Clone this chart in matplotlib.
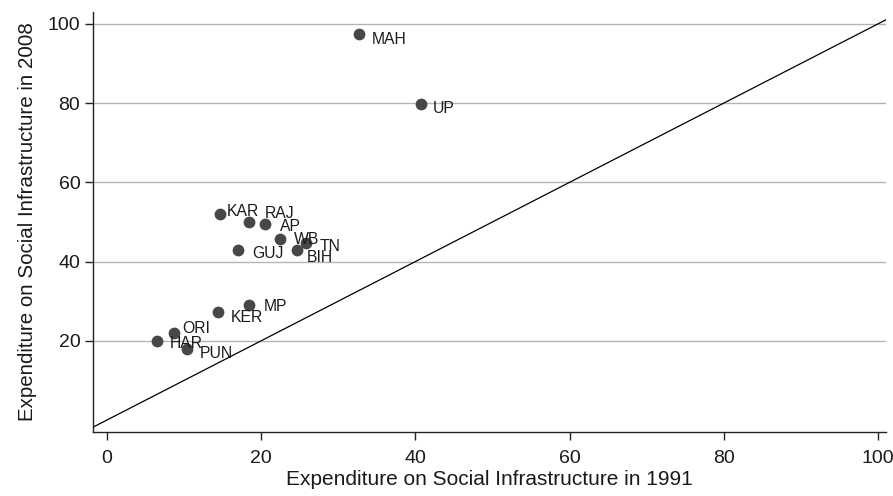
import matplotlib
matplotlib.use("Agg")
import matplotlib.pyplot as plt
import numpy as np

plt.rcParams["font.family"] = ["Liberation Sans", "DejaVu Sans"]

# state-level expenditure on social infrastructure
states = ["MAH", "UP", "KAR", "RAJ", "AP", "WB", "TN", "BIH", "GUJ",
          "MP", "KER", "ORI", "HAR", "PUN"]
exp_1991 = [32.7, 40.7, 14.7, 18.5, 20.5, 22.5, 25.8, 24.7, 17.0,
            18.5, 14.4, 8.7, 6.5, 10.4]
exp_2008 = [97.5, 79.8, 52.0, 50.0, 49.6, 45.8, 44.8, 43.0, 42.8,
            29.0, 27.2, 22.1, 20.0, 17.9]

# label offsets in points (dx, dy) relative to each marker
label_offsets = {
    "MAH": (9, -4), "UP": (9, -3), "KAR": (5, 2), "RAJ": (11, 6),
    "AP": (11, -2), "WB": (10, -1), "TN": (10, -2.5), "BIH": (6.5, -5.5),
    "GUJ": (10, -2), "MP": (10, -1), "KER": (9, -4), "ORI": (6, 3),
    "HAR": (9, -2), "PUN": (9, -3),
}

fig = plt.figure(figsize=(8.93, 4.96), dpi=100)
ax = fig.add_axes([0.104, 0.129, 0.888, 0.847])

ax.set_xlim(-1.8, 101.0)
ax.set_ylim(-3.0, 103.0)

ax.set_yticks([20, 40, 60, 80, 100])
ax.set_xticks([0, 20, 40, 60, 80, 100])
ax.yaxis.grid(True, color="#b4b4b4", linewidth=1.0)
ax.set_axisbelow(True)

# 45-degree reference line
diag = np.array([-3.0, 101.0])
ax.plot(diag, diag, color="black", linewidth=0.9, zorder=2)

ax.scatter(exp_1991, exp_2008, s=72, color="#474747", zorder=3,
           linewidths=0)

for name, x, y in zip(states, exp_1991, exp_2008):
    dx, dy = label_offsets[name]
    ax.annotate(name, (x, y), xytext=(dx, dy), textcoords="offset points",
                ha="left", va="center", fontsize=11.3, color="#1a1a1a",
                zorder=4)

for side in ["top", "right"]:
    ax.spines[side].set_visible(False)
for side in ["left", "bottom"]:
    ax.spines[side].set_color("#222222")
    ax.spines[side].set_linewidth(1.0)

ax.tick_params(axis="both", direction="out", length=6, width=1.0,
               color="#222222", labelsize=14, labelcolor="#1a1a1a")
ax.tick_params(axis="y", pad=3)
ax.tick_params(axis="x", pad=7)

ax.set_xlabel("Expenditure on Social Infrastructure in 1991", fontsize=15,
              color="#1a1a1a", labelpad=2)
ax.set_ylabel("Expenditure on Social Infrastructure in 2008", fontsize=14.8,
              color="#1a1a1a", labelpad=8)

fig.savefig("out.png", dpi=100)
